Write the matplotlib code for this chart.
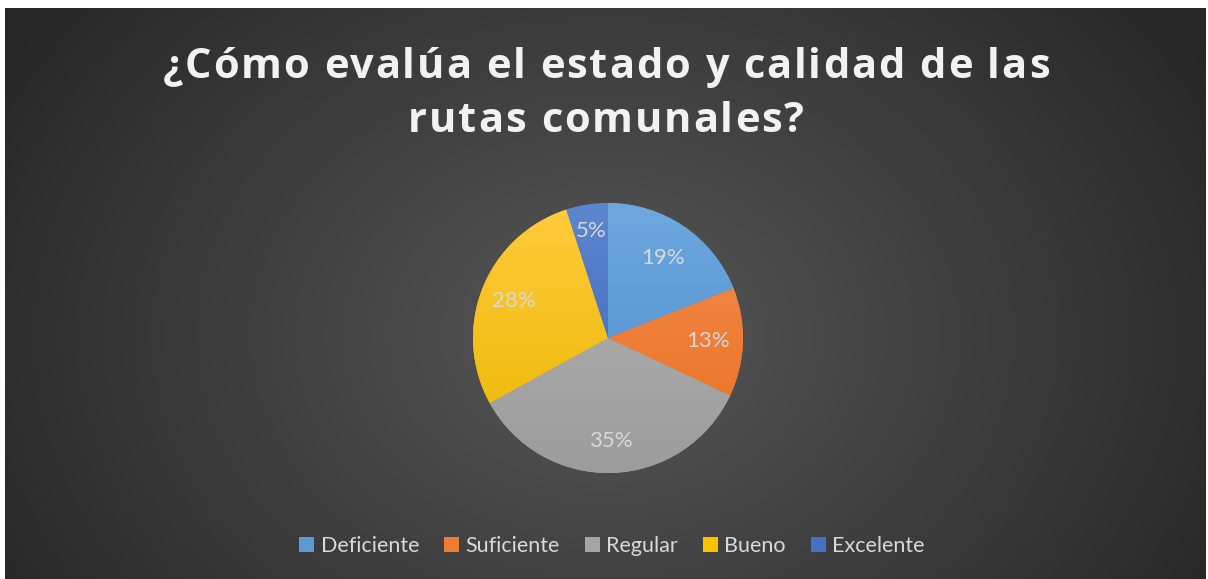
import numpy as np
import matplotlib
matplotlib.use("Agg")
import matplotlib.pyplot as plt
from matplotlib.colors import to_rgb
from matplotlib.patches import Rectangle

# ---- data ----
categories = ["Deficiente", "Suficiente", "Regular", "Bueno", "Excelente"]
values = [19, 13, 35, 28, 5]
title_lines = ["¿Cómo evalúa el estado y calidad de las", "rutas comunales?"]

colors_top = ["#6EA8DE", "#F38E50", "#B3B3B3", "#FFCB3C", "#5C86CE"]
colors_bot = ["#4A8CCD", "#EA6E1E", "#9C9C9C", "#EAB700", "#3862BC"]
legend_colors = ["#5B9BD5", "#ED7D31", "#A5A5A5", "#FFC000", "#4472C4"]
label_radius = [0.72, 0.74, 0.76, 0.75, 0.80]

W, H = 1208, 579
fig = plt.figure(figsize=(W / 100, H / 100), dpi=100)
fig.patch.set_facecolor("white")

# ---- background with radial gradient ----
bg = fig.add_axes([0, 0, 1, 1])
bg.set_xlim(0, W)
bg.set_ylim(H, 0)
bg.axis("off")
x0, x1, y0, y1 = 5, 1206, 8, 579
xx, yy = np.meshgrid(np.linspace(x0, x1, 600), np.linspace(y0, y1, 300))
cx, cy = 605, 335
d = np.sqrt(((xx - cx) / 720) ** 2 + ((yy - cy) / 560) ** 2)
d = np.clip(d, 0, 1)
c_in = np.array(to_rgb("#575757"))
c_out = np.array(to_rgb("#262626"))
img = c_in[None, None, :] * (1 - d[..., None]) + c_out[None, None, :] * d[..., None]
bg.imshow(img, extent=(x0, x1, y1, y0), aspect="auto", zorder=0, interpolation="bilinear")

# ---- title with letter spacing ----
title_color = "#F2F2F2"
tfont = dict(family="Open Sans", weight="bold", size=30)
renderer = fig.canvas.get_renderer()

def text_width(s):
    t = bg.text(0, 0, s, **tfont)
    w = t.get_window_extent(renderer).width
    t.remove()
    return w

target_w = 887.0
line1 = title_lines[0]
nat = text_width(line1)
spacing = (target_w - nat) / (len(line1) - 1)

def spaced_text(s, xc, ybase):
    total = text_width(s) + spacing * (len(s) - 1)
    xs = xc - total / 2
    for i, ch in enumerate(s):
        if ch == " ":
            continue
        off = text_width(s[:i]) if i > 0 else 0
        bg.text(xs + off + spacing * i, ybase, ch, color=title_color,
                va="baseline", ha="left", **tfont)

spaced_text(title_lines[0], 606, 78)
spaced_text(title_lines[1], 606, 132)

# ---- pie ----
pcx, pcy, R = 608, 338, 135
ax = fig.add_axes([(pcx - R) / W, (H - pcy - R) / H, 2 * R / W, 2 * R / H])
ax.set_aspect("equal")
wedges, _ = ax.pie(values, startangle=90, counterclock=False,
                   colors=legend_colors, radius=1,
                   wedgeprops=dict(linewidth=0))
grad = np.linspace(0, 1, 256)[:, None]
total_v = sum(values)
for w, ct, cb, v, r in zip(wedges, colors_top, colors_bot, values, label_radius):
    t = np.array(to_rgb(ct)); b = np.array(to_rgb(cb))
    g = t[None, None, :] * (1 - grad[..., None]) + b[None, None, :] * grad[..., None]
    g = np.repeat(g, 2, axis=1)
    im = ax.imshow(g, extent=(-1, 1, -1, 1), aspect="auto", zorder=1.5,
                   interpolation="bilinear")
    im.set_clip_path(w)
    mid = np.deg2rad((w.theta1 + w.theta2) / 2)
    ax.text(r * np.cos(mid), r * np.sin(mid), f"{round(100 * v / total_v)}%",
            ha="center", va="center", color="#D9D9D9", fontsize=16,
            family="Lato", zorder=3)
ax.set_xlim(-1, 1)
ax.set_ylim(-1, 1)
ax.axis("off")

# ---- legend ----
handles = [Rectangle((0, 0), 1, 1, facecolor=c, edgecolor="none") for c in legend_colors]
leg = fig.legend(handles, categories, loc="center", bbox_to_anchor=(612 / W, 1 - 546 / H),
                 ncol=5, frameon=False, handlelength=0.7, handleheight=0.7,
                 handletextpad=0.3, columnspacing=1.15,
                 prop=dict(family="Lato", size=15.5))
for t in leg.get_texts():
    t.set_color("#D9D9D9")

fig.savefig("out.png", dpi=100)
